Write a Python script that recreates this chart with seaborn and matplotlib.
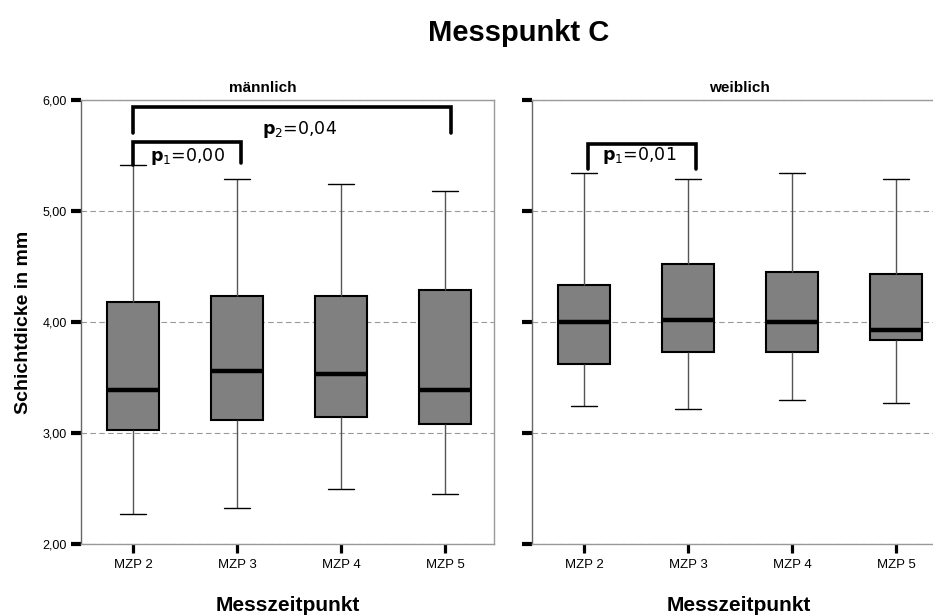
import numpy as np
import pandas as pd
import matplotlib
matplotlib.use("Agg")
import matplotlib.pyplot as plt
import seaborn as sns

# Werte: Minimum, Q1, Median, Q3, Maximum
mzp = ["MZP 2", "MZP 3", "MZP 4", "MZP 5"]
maennlich_min = [2.27, 2.32, 2.50, 2.45]
maennlich_q1 = [3.03, 3.12, 3.14, 3.08]
maennlich_med = [3.39, 3.56, 3.53, 3.39]
maennlich_q3 = [4.18, 4.23, 4.23, 4.29]
maennlich_max = [5.41, 5.29, 5.24, 5.18]

weiblich_min = [3.24, 3.22, 3.30, 3.27]
weiblich_q1 = [3.62, 3.73, 3.73, 3.84]
weiblich_med = [4.00, 4.02, 4.00, 3.93]
weiblich_q3 = [4.33, 4.52, 4.45, 4.43]
weiblich_max = [5.34, 5.29, 5.34, 5.29]

y_ticks = [2, 3, 4, 5, 6]
y_ticklabels = ["2,00", "3,00", "4,00", "5,00", "6,00"]


def long_table(geschlecht, mins, q1s, meds, q3s, maxs):
    rows = []
    for i, m in enumerate(mzp):
        for v in (mins[i], q1s[i], meds[i], q3s[i], maxs[i]):
            rows.append({"Geschlecht": geschlecht, "MZP": m, "Schichtdicke": v})
    return rows


df = pd.DataFrame(
    long_table("männlich", maennlich_min, maennlich_q1, maennlich_med, maennlich_q3, maennlich_max)
    + long_table("weiblich", weiblich_min, weiblich_q1, weiblich_med, weiblich_q3, weiblich_max)
)

sns.set_style("white")
plt.rcParams["font.family"] = ["Liberation Sans", "DejaVu Sans"]
plt.rcParams["text.color"] = "black"
plt.rcParams["axes.labelcolor"] = "black"
plt.rcParams["xtick.color"] = "black"
plt.rcParams["ytick.color"] = "black"

W, H = 933, 616
fig = plt.figure(figsize=(W / 100, H / 100), dpi=100)
ax1 = fig.add_axes([81 / W, 1 - 544 / H, 413 / W, 444 / H])
ax2 = fig.add_axes([532 / W, 1 - 544 / H, 413 / W, 444 / H])

for ax, g in [(ax1, "männlich"), (ax2, "weiblich")]:
    sns.boxplot(
        data=df[df["Geschlecht"] == g], x="MZP", y="Schichtdicke", order=mzp,
        ax=ax, whis=(0, 100), width=0.5, color="#808080", saturation=1,
        linecolor="black", showfliers=False,
        boxprops={"linewidth": 1.5, "edgecolor": "black"},
        medianprops={"linewidth": 3.2, "color": "black"},
        whiskerprops={"linewidth": 1.0, "color": "#555555"},
        capprops={"linewidth": 1.0, "color": "black"},
    )
    ax.set_xlim(-0.5, 3.47)
    ax.set_ylim(2, 6)
    ax.set_yticks(y_ticks)
    ax.grid(axis="y", linestyle=(0, (5, 3)), color="#999999", linewidth=0.8)
    ax.set_axisbelow(True)
    for s in ["top", "right", "bottom"]:
        ax.spines[s].set_color("#999999")
        ax.spines[s].set_linewidth(1.0)
    ax.spines["left"].set_color("#666666")
    ax.spines["left"].set_linewidth(1.0)
    ax.tick_params(axis="y", left=True, length=7, width=3, color="black", direction="out",
                   labelsize=9, pad=3, labelcolor="black")
    ax.tick_params(axis="x", bottom=True, length=6.5, width=2.3, color="black", direction="out",
                   labelsize=9.5, pad=4, labelcolor="black")
    ax.set_xlabel("Messzeitpunkt", fontsize=15, fontweight="bold", labelpad=18, color="black")
    ax.set_ylabel("")

ax1.set_yticklabels(y_ticklabels)
ax2.set_yticklabels([])
ax1.set_ylabel("Schichtdicke in mm", fontsize=14, fontweight="bold", labelpad=8, color="black")

fig.text(263 / W, 1 - 88 / H, "männlich", ha="center", va="center", fontsize=11, fontweight="bold")
fig.text(739 / W, 1 - 88 / H, "weiblich", ha="center", va="center", fontsize=11, fontweight="bold")
fig.text(519 / W, 1 - 33 / H, "Messpunkt C", ha="center", va="center", fontsize=21, fontweight="bold")

# Signifikanz-Klammern
def klammer(ax, x0, x1, y_top, y0, y1):
    ax.plot([x0, x0, x1, x1], [y0, y_top, y_top, y1], color="black", linewidth=2.6,
            solid_joinstyle="miter", clip_on=False)

klammer(ax1, 0.0, 3.06, 5.94, 5.70, 5.70)
klammer(ax1, 0.0, 1.04, 5.62, 5.41, 5.43)
klammer(ax2, 0.04, 1.08, 5.60, 5.38, 5.38)

p_font = {"family": "DejaVu Sans", "fontsize": 12.5, "va": "center", "ha": "left", "color": "black"}
ax1.text(1.24, 5.73, r"$\mathbf{p}_2$=0,04", **p_font)
ax1.text(0.16, 5.49, r"$\mathbf{p}_1$=0,00", **p_font)
ax2.text(0.17, 5.50, r"$\mathbf{p}_1$=0,01", **p_font)

fig.savefig("out.png", dpi=100)
